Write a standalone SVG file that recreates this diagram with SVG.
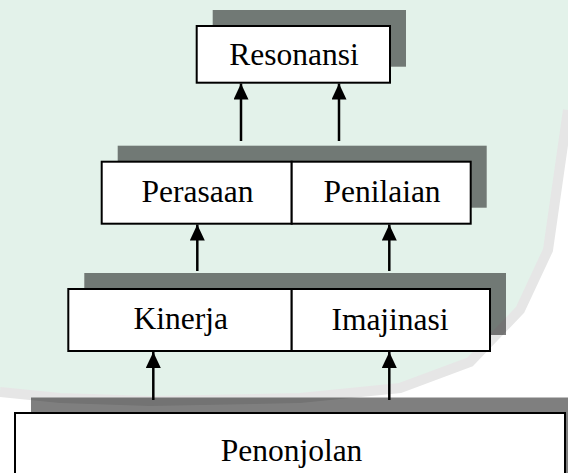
<svg xmlns="http://www.w3.org/2000/svg" width="568" height="473" viewBox="0 0 568 473">
  <style>
    .shadow { fill: #000000; fill-opacity: 0.5; }
    .box { fill: #ffffff; stroke: #000000; stroke-width: 2; }
    .div { stroke: #000000; stroke-width: 2; }
    .lbl { font-family: "Liberation Serif", "Times New Roman", serif; font-size: 31.5px; fill: #000000; text-anchor: middle; }
    .conn { stroke: #000000; stroke-width: 2.5; fill: none; marker-end: url(#arrow); }
  </style>
  <defs>
    <marker id="arrow" markerUnits="userSpaceOnUse" markerWidth="16" markerHeight="16" refX="16" refY="7.5" orient="auto">
      <path d="M0,0 L16,7.5 L0,15 Z" fill="#000000"/>
    </marker>
  </defs>

  <g id="background">
    <rect x="0" y="0" width="568" height="473" fill="#ffffff"/>
    <path d="M0,0 H568 V110 L548,250 L520,310 L470,362 L400,388 L300,398 L150,401 L60,398 L0,392 Z" fill="#e3f2ea"/>
    <path d="M0,392 L60,398 L150,401 L300,398 L400,388 L470,362 L520,310 L548,250 L568,110" fill="none" stroke="#e6e6e6" stroke-width="10"/>
  </g>

  <g id="connectors">
    <line class="conn" x1="241" y1="141" x2="241" y2="83.5"/>
    <line class="conn" x1="339" y1="141" x2="339" y2="83.5"/>
    <line class="conn" x1="197.3" y1="271" x2="197.3" y2="224.5"/>
    <line class="conn" x1="389.3" y1="271" x2="389.3" y2="224.5"/>
    <line class="conn" x1="153.3" y1="400" x2="153.3" y2="352"/>
    <line class="conn" x1="389.3" y1="400" x2="389.3" y2="352"/>
  </g>

  <g id="resonansi">
    <rect class="shadow" x="212.7" y="10" width="193.3" height="56.7"/>
    <rect class="box" x="196.7" y="26" width="193.3" height="56.7"/>
    <text class="lbl" x="294" y="65">Resonansi</text>
  </g>

  <g id="level2">
    <rect class="shadow" x="117.7" y="145.7" width="369" height="62"/>
    <g id="perasaan">
      <rect class="box" x="101.7" y="161.7" width="190" height="62"/>
      <text class="lbl" x="197.5" y="201.7">Perasaan</text>
    </g>
    <g id="penilaian">
      <rect class="box" x="291.7" y="161.7" width="179" height="62"/>
      <text class="lbl" x="382" y="201.7">Penilaian</text>
    </g>
  </g>

  <g id="level3">
    <rect class="shadow" x="84.3" y="273" width="421.7" height="62"/>
    <g id="kinerja">
      <rect class="box" x="68.3" y="289" width="223.4" height="62"/>
      <text class="lbl" x="180.8" y="329">Kinerja</text>
    </g>
    <g id="imajinasi">
      <rect class="box" x="291.7" y="289" width="198.3" height="62"/>
      <text class="lbl" x="390" y="329.5">Imajinasi</text>
    </g>
  </g>

  <g id="penonjolan">
    <rect class="shadow" x="31" y="397.5" width="560" height="90"/>
    <rect class="box" x="15" y="413" width="550" height="80"/>
    <text class="lbl" x="291.5" y="461">Penonjolan</text>
  </g>
</svg>
